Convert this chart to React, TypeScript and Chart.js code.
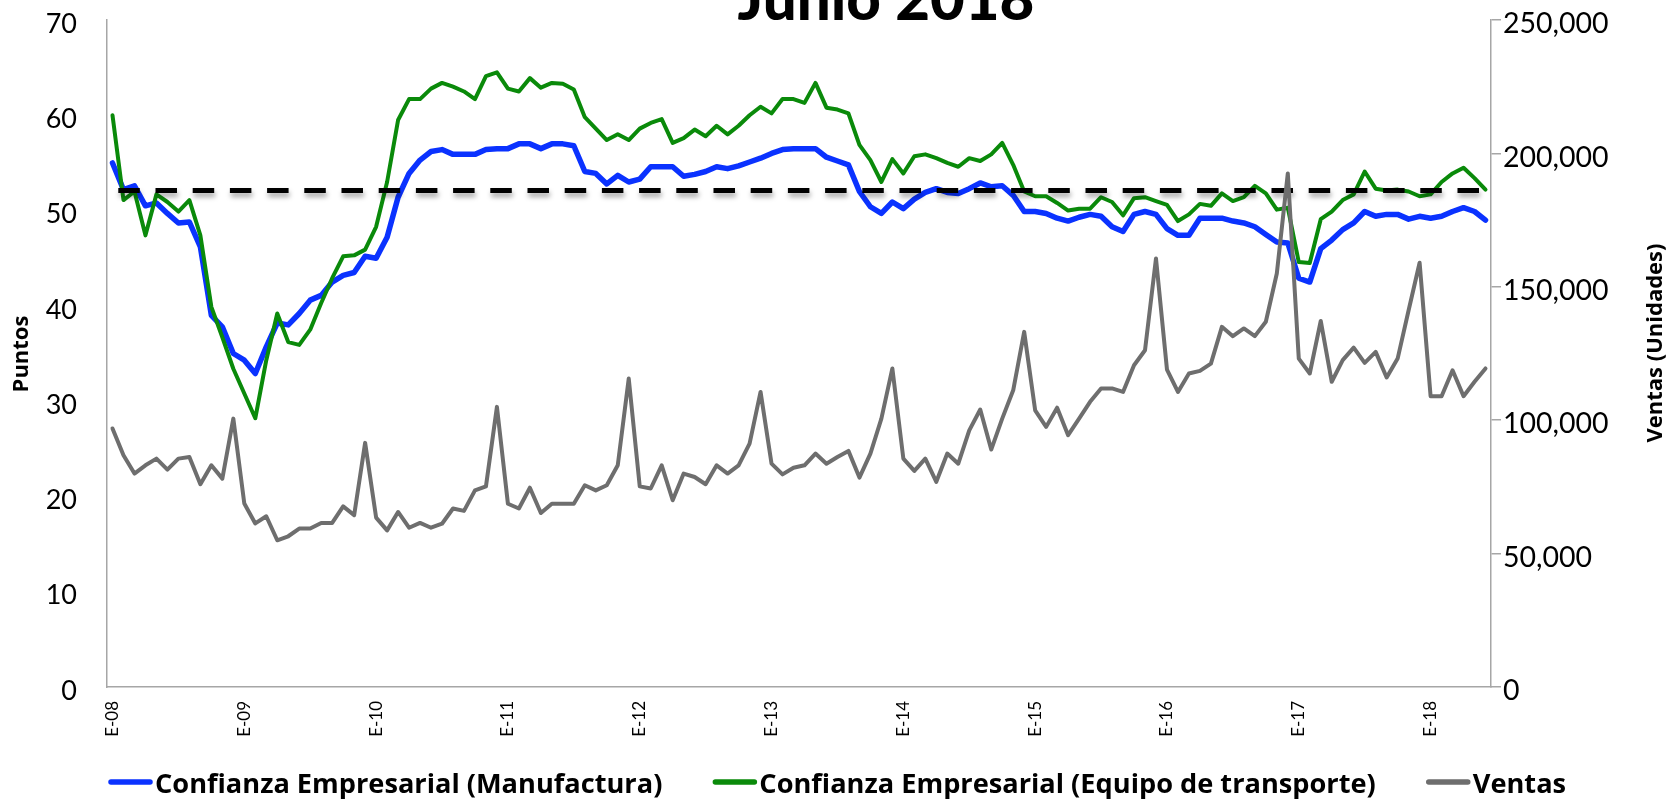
import { useEffect, useRef } from 'react';
import { Chart, registerables } from 'chart.js';

Chart.register(...registerables);

// ---------- data ----------
const YEARS = ['08', '09', '10', '11', '12', '13', '14', '15', '16', '17', '18'];
const MONTH_ABBR = ['E', 'F', 'M', 'A', 'My', 'Jn', 'Jl', 'Ag', 'S', 'O', 'N', 'D'];
const N_MONTHS = 126; // enero 2008 - junio 2018
const CATEGORIES = YEARS.flatMap((y) => MONTH_ABBR.map((m) => `${m}-${y}`)).slice(0, N_MONTHS);

const TITLE = 'Junio 2018';
const LEFT_TITLE = 'Puntos';
const RIGHT_TITLE = 'Ventas (Unidades)';
const UMBRAL = 52.1;

const MANUFACTURA = [
  55.0, 52.2, 52.6, 50.5, 50.8, 49.7, 48.7, 48.8, 46.2, 39.0, 37.8, 35.0,
  34.3, 32.9, 35.7, 38.2, 38.0, 39.2, 40.6, 41.1, 42.5, 43.2, 43.5, 45.2,
  45.0, 47.2, 51.4, 53.9, 55.3, 56.2, 56.4, 55.9, 55.9, 55.9, 56.4, 56.5,
  56.5, 57.0, 57.0, 56.5, 57.0, 57.0, 56.8, 54.1, 53.9, 52.8, 53.7, 53.0,
  53.3, 54.6, 54.6, 54.6, 53.6, 53.8, 54.1, 54.6, 54.4, 54.7, 55.1, 55.5,
  56.0, 56.4, 56.5, 56.5, 56.5, 55.6, 55.2, 54.8, 52.0, 50.4, 49.7, 50.9,
  50.2, 51.2, 51.9, 52.3, 51.9, 51.8, 52.3, 52.9, 52.5, 52.6, 51.6, 49.9,
  49.9, 49.7, 49.2, 48.9, 49.3, 49.6, 49.4, 48.3, 47.8, 49.6, 49.9, 49.6,
  48.1, 47.4, 47.4, 49.2, 49.2, 49.2, 48.9, 48.7, 48.3, 47.5, 46.7, 46.6,
  42.9, 42.5, 46.0, 46.9, 48.0, 48.7, 49.9, 49.4, 49.6, 49.6, 49.1, 49.4,
  49.2, 49.4, 49.9, 50.3, 49.9, 49.0,
];

const EQUIPO_TRANSPORTE = [
  60.0, 51.1, 52.0, 47.4, 51.7, 50.9, 49.9, 51.1, 47.4, 39.9, 36.7, 33.4,
  30.8, 28.2, 34.3, 39.2, 36.2, 35.9, 37.5, 40.3, 42.9, 45.2, 45.3, 45.9,
  48.3, 53.0, 59.5, 61.7, 61.7, 62.8, 63.4, 63.0, 62.5, 61.7, 64.1, 64.5,
  62.8, 62.5, 63.9, 62.9, 63.4, 63.3, 62.7, 59.8, 58.6, 57.4, 58.0, 57.4,
  58.6, 59.2, 59.6, 57.1, 57.6, 58.5, 57.8, 58.9, 58.0, 58.9, 60.0, 60.9,
  60.2, 61.7, 61.7, 61.3, 63.4, 60.8, 60.6, 60.2, 56.9, 55.3, 53.0, 55.4,
  53.9, 55.7, 55.9, 55.5, 55.0, 54.6, 55.5, 55.2, 55.9, 57.1, 54.8, 52.0,
  51.5, 51.5, 50.8, 50.0, 50.2, 50.2, 51.4, 50.9, 49.5, 51.3, 51.4, 51.0,
  50.6, 48.9, 49.6, 50.7, 50.5, 51.8, 51.0, 51.4, 52.6, 51.8, 50.1, 50.3,
  44.6, 44.5, 49.1, 49.9, 51.1, 51.7, 54.1, 52.3, 52.1, 52.2, 52.0, 51.5,
  51.7, 53.0, 53.9, 54.5, 53.4, 52.2,
];

const VENTAS = [
  96900, 86900, 80000, 83100, 85600, 81500, 85600, 86200, 76000, 83100, 78100, 100600,
  68800, 61300, 64000, 55000, 56500, 59400, 59400, 61500, 61500, 67700, 64400, 91500,
  63500, 58700, 65600, 59700, 61500, 59700, 61200, 66900, 66000, 73700, 75200, 105000,
  68700, 66900, 74700, 65200, 68700, 68700, 68700, 75600, 73700, 75600, 83100, 115600,
  75200, 74400, 83100, 70000, 80000, 78700, 76000, 83100, 80000, 83100, 91200, 110600,
  83700, 79700, 82200, 83100, 87500, 83700, 86200, 88500, 78500, 87500, 100600, 119400,
  85600, 81000, 85600, 76900, 87500, 83700, 96200, 104000, 89000, 100600, 111200, 133100,
  103700, 97500, 104700, 94400, 100600, 106900, 111900, 111900, 110600, 120600, 126200, 160600,
  119000, 110600, 117500, 118500, 121200, 135000, 131500, 134400, 131500, 136900, 155000, 192500,
  123100, 117500, 137200, 114400, 122500, 127200, 121500, 125600, 116000, 123100, 141200, 159000,
  109000, 109000, 118700, 109000, 114400, 119400,
];

// ---------- styles ----------
const BLUE = '#0A32FF';
const GREEN = '#0A8A0A';
const GRAY = '#6E6E6E';
const AXIS = '#A6A6A6';
const FONT = 'Lato, "Open Sans", sans-serif';
const BOLD_FONT = '"Open Sans", Lato, sans-serif';

const W = 1671;
const H = 799;

const decorPlugin = {
  id: 'decor',
  beforeDatasetDraw(chart: any, args: any) {
    if (args.index !== 2) return;
    const { ctx } = chart;
    const xs = chart.scales.x;
    const ys = chart.scales.y;
    const py = ys.getPixelForValue(UMBRAL);
    const x0 = xs.getPixelForValue(0);
    const x1 = xs.getPixelForValue(CATEGORIES.length - 1);
    ctx.save();
    ctx.beginPath();
    ctx.setLineDash([21.5, 15.7]);
    ctx.lineDashOffset = 31.4;
    ctx.lineWidth = 5;
    ctx.lineCap = 'butt';
    ctx.strokeStyle = '#000';
    ctx.shadowColor = 'rgba(0,0,0,0.35)';
    ctx.shadowBlur = 5;
    ctx.shadowOffsetX = 1;
    ctx.shadowOffsetY = 4;
    ctx.moveTo(x0, py);
    ctx.lineTo(x1, py);
    ctx.stroke();
    ctx.restore();
  },
  afterDraw(chart: any) {
    const { ctx } = chart;
    ctx.save();
    ctx.fillStyle = '#000';

    // title (partially cut at the top, as in the reference)
    ctx.font = `900 60px ${FONT}`;
    ctx.textAlign = 'center';
    ctx.textBaseline = 'alphabetic';
    ctx.fillText(TITLE, 886, 20);

    // axis titles
    ctx.font = `bold 22px ${BOLD_FONT}`;
    ctx.textBaseline = 'middle';
    ctx.save();
    ctx.translate(22, 354);
    ctx.rotate(-Math.PI / 2);
    ctx.fillText(LEFT_TITLE, 0, 0);
    ctx.restore();
    ctx.save();
    ctx.translate(1656, 343);
    ctx.rotate(-Math.PI / 2);
    ctx.fillText(RIGHT_TITLE, 0, 0);
    ctx.restore();

    // legend
    ctx.font = `bold 27.2px ${BOLD_FONT}`;
    ctx.textAlign = 'left';
    ctx.textBaseline = 'alphabetic';
    let x = 109;
    const ly = 782;
    chart.data.datasets.forEach((ds: any) => {
      ctx.beginPath();
      ctx.strokeStyle = ds.borderColor;
      ctx.lineWidth = 5.5;
      ctx.lineCap = 'round';
      ctx.moveTo(x + 2, ly);
      ctx.lineTo(x + 41, ly);
      ctx.stroke();
      ctx.fillText(ds.label, x + 46, 793);
      x += 46 + ctx.measureText(ds.label).width + 51;
    });
    ctx.restore();
  },
};

export default function App() {
  const ref = useRef<HTMLCanvasElement | null>(null);

  useEffect(() => {
    if (!ref.current) return;
    const chart = new Chart(ref.current, {
      type: 'line',
      data: {
        labels: CATEGORIES,
        datasets: [
          {
            label: 'Confianza Empresarial (Manufactura)',
            data: MANUFACTURA,
            borderColor: BLUE,
            backgroundColor: BLUE,
            borderWidth: 5.5,
            yAxisID: 'y',
            order: 2,
          },
          {
            label: 'Confianza Empresarial (Equipo de transporte)',
            data: EQUIPO_TRANSPORTE,
            borderColor: GREEN,
            backgroundColor: GREEN,
            borderWidth: 4,
            yAxisID: 'y',
            order: 1,
          },
          {
            label: 'Ventas',
            data: VENTAS,
            borderColor: GRAY,
            backgroundColor: GRAY,
            borderWidth: 4,
            yAxisID: 'y1',
            order: 0,
          },
        ],
      },
      options: {
        animation: false,
        responsive: true,
        maintainAspectRatio: false,
        layout: { padding: { top: 20, left: 0, right: 0, bottom: 0 } },
        elements: {
          point: { radius: 0, hoverRadius: 0 },
          line: { tension: 0, borderJoinStyle: 'round', borderCapStyle: 'round' },
        },
        plugins: {
          legend: { display: false },
          title: { display: false },
          tooltip: { enabled: false },
        },
        scales: {
          x: {
            type: 'category',
            offset: true,
            grid: { display: false, drawTicks: false },
            border: { display: true, color: AXIS, width: 1.5 },
            ticks: {
              autoSkip: false,
              minRotation: 90,
              maxRotation: 90,
              padding: 14,
              color: '#000',
              font: { family: FONT, size: 17 },
              callback: (_v: any, i: number) => (CATEGORIES[i].startsWith('E-') ? CATEGORIES[i] : ''),
            },
            afterFit: (s: any) => {
              s.height = H - 687;
              s.paddingLeft = 0;
              s.paddingRight = 0;
            },
          },
          y: {
            position: 'left',
            min: 0,
            max: 70,
            grid: { display: false, drawTicks: false },
            border: { display: true, color: AXIS, width: 1.5 },
            ticks: {
              stepSize: 10,
              padding: 30,
              labelOffset: 4,
              color: '#000',
              font: { family: FONT, size: 27 },
            },
            afterFit: (s: any) => {
              s.width = 107;
              s.paddingTop = 0;
              s.paddingBottom = 0;
            },
          },
          y1: {
            position: 'right',
            min: 0,
            max: 250000,
            grid: { display: true, drawOnChartArea: false, drawTicks: true, tickLength: 10, color: AXIS, lineWidth: 1.5 },
            border: { display: true, color: AXIS, width: 1.5 },
            ticks: {
              stepSize: 50000,
              padding: 2,
              labelOffset: 4,
              color: '#000',
              font: { family: FONT, size: 28.5 },
              callback: (v: any) => Number(v).toLocaleString('en-US'),
            },
            afterFit: (s: any) => {
              s.width = W - 1491;
              s.paddingTop = 0;
              s.paddingBottom = 0;
            },
          },
        },
      },
      plugins: [decorPlugin],
    });
    return () => chart.destroy();
  }, []);

  return (
    <div style={{ position: 'fixed', left: 0, top: 0, width: W, height: H, background: '#fff' }}>
      <canvas ref={ref} />
    </div>
  );
}
